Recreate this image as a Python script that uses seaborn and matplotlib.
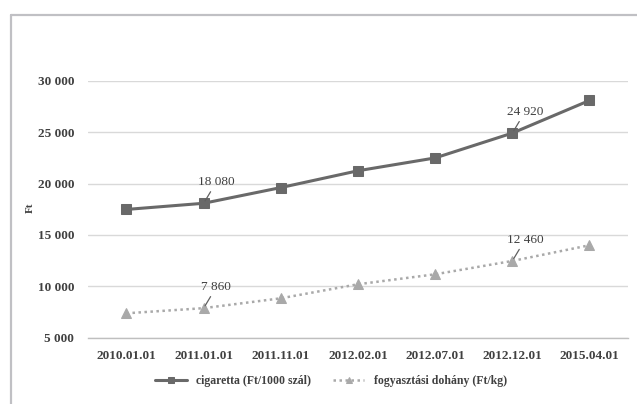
import numpy as np
import pandas as pd
import seaborn as sns
import matplotlib.pyplot as plt
from matplotlib.lines import Line2D
from matplotlib.ticker import FuncFormatter, FixedLocator

# 数据
dates = ['2010.01.01', '2011.01.01', '2011.11.01', '2012.02.01',
         '2012.07.01', '2012.12.01', '2015.04.01']
cigaretta = [17480, 18080, 19610, 21250, 22500, 24920, 28100]
dohany = [7360, 7860, 8820, 10190, 11160, 12460, 13990]
label_cig = 'cigaretta (Ft/1000 szál)'
label_doh = 'fogyasztási dohány (Ft/kg)'
# 带标注的点: (序列, 索引, 文字)
notes = [('cig', 1, '18 080'), ('cig', 5, '24 920'),
         ('doh', 1, '7 860'), ('doh', 5, '12 460')]

df = pd.DataFrame({'date': dates, 'cig': cigaretta, 'doh': dohany})

sns.set_style('white')
plt.rcParams['font.family'] = ['Liberation Serif', 'DejaVu Serif']

c_cig = '#696969'
c_doh = '#a9a9a9'

fig = plt.figure(figsize=(6.37, 4.04), dpi=100)
ax = fig.add_axes([0.138, 0.1646, 0.848, 0.635])

sns.lineplot(data=df, x='date', y='cig', ax=ax, color=c_cig, lw=2.2,
             marker='s', markersize=7, markeredgecolor=c_cig,
             label=label_cig, sort=False, clip_on=False)
sns.lineplot(data=df, x='date', y='doh', ax=ax, color=c_doh, lw=1.8,
             linestyle=(0, (1, 1.4)), marker='^', markersize=7,
             markeredgecolor=c_doh, label=label_doh, sort=False, clip_on=False)

ax.set_xlim(-0.5, len(dates) - 0.5)
ax.set_ylim(5000, 30000)
ax.set_yticks(range(5000, 30001, 5000))
ax.yaxis.set_major_formatter(FuncFormatter(lambda v, p: f'{int(v):,}'.replace(',', ' ')))
ax.grid(axis='y', color='#d9d9d9', lw=1)
ax.set_axisbelow(True)
for s in ['top', 'right', 'left']:
    ax.spines[s].set_visible(False)
ax.spines['bottom'].set_color('#bfbfbf')
ax.spines['bottom'].set_linewidth(1)

ax.set_xticks(range(len(dates)))
ax.set_xticklabels(dates)
ax.xaxis.set_minor_locator(FixedLocator(np.arange(-0.5, len(dates), 1.0)))
ax.tick_params(axis='x', which='major', length=0, pad=9, labelsize=9.5, labelcolor='#404040')
ax.tick_params(axis='x', which='minor', length=4, color='#bfbfbf', width=1, direction='out')
ax.tick_params(axis='y', length=0, pad=10, labelsize=9.5, labelcolor='#404040')
for t in ax.get_xticklabels() + ax.get_yticklabels():
    t.set_fontweight('bold')

ax.set_xlabel('')
ax.set_ylabel('Ft', fontsize=8, fontweight='bold', color='#404040')
ax.yaxis.set_label_coords(-0.098, 0.505)

# 标注
for ser, i, txt in notes:
    val = df[ser][i]
    ax.annotate(txt, xy=(i, val), xytext=(9, 15), textcoords='offset points',
                ha='center', va='center', fontsize=9.5, color='#404040',
                arrowprops=dict(arrowstyle='-', color='#606060', lw=0.9,
                                shrinkA=0, shrinkB=2))

handles, labels = ax.get_legend_handles_labels()
ax.get_legend().remove()
leg = fig.legend(handles, labels, loc='center', bbox_to_anchor=(331 / 637, 0.057),
                 ncol=2, frameon=False, handlelength=2.7, columnspacing=1.8,
                 markerscale=0.6,
                 prop={'family': 'Liberation Serif', 'weight': 'bold', 'size': 8.5})
for t in leg.get_texts():
    t.set_color('#404040')

# 外框 (只露出上边和左边)
fig.add_artist(Line2D([10.5 / 637, 1], [1 - 14.5 / 404] * 2, transform=fig.transFigure,
                      color='#c0c0c4', lw=1.6))
fig.add_artist(Line2D([10.5 / 637] * 2, [0, 1 - 14.5 / 404], transform=fig.transFigure,
                      color='#c0c0c4', lw=1.6))

fig.savefig('out.png', dpi=100)
